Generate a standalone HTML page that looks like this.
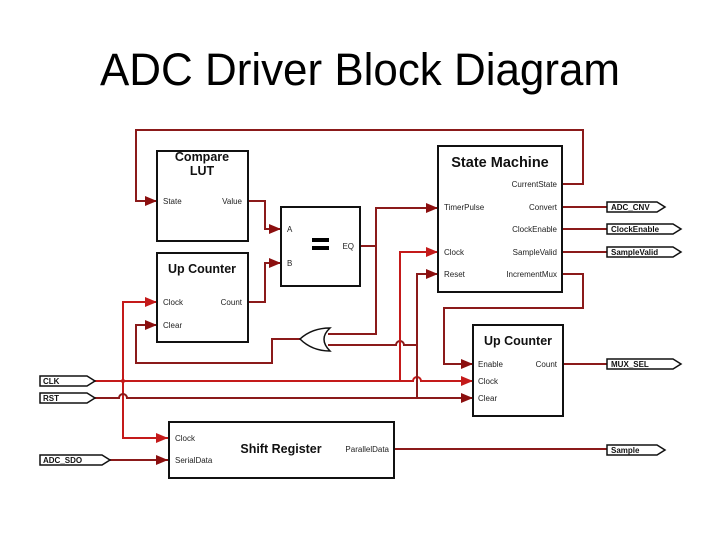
<!DOCTYPE html>
<html><head><meta charset="utf-8"><style>
html,body{margin:0;padding:0;background:#fff;}
svg{display:block;font-family:"Liberation Sans",Arial,sans-serif;}
.w{fill:none;stroke:#8b1a1a;stroke-width:2;}
.c{fill:none;stroke:#c41a1a;stroke-width:2;}
.b{fill:#fff;stroke:#111;stroke-width:2;}
.p{font-size:8px;fill:#222;}
.t{font-size:12.5px;font-weight:bold;fill:#111;}
.g{font-size:8px;font-weight:bold;fill:#111;}
.tag{fill:#fff;stroke:#111;stroke-width:1.5;}
</style></head><body>
<svg width="720" height="540" viewBox="0 0 720 540">
<defs>
<marker id="a" markerWidth="12" markerHeight="10" refX="12" refY="5" orient="auto" markerUnits="userSpaceOnUse"><path d="M0,0 L12,5 L0,10 Z" fill="#8b0f0f"/></marker>
<marker id="ac" markerWidth="12" markerHeight="10" refX="12" refY="5" orient="auto" markerUnits="userSpaceOnUse"><path d="M0,0 L12,5 L0,10 Z" fill="#c41a1a"/></marker>
</defs>
<text x="360" y="85" text-anchor="middle" font-size="45" textLength="520" lengthAdjust="spacingAndGlyphs" fill="#000">ADC Driver Block Diagram</text>

<path class="w" d="M562,184 H583 V130 H136 V201 H157" marker-end="url(#a)"/>
<path class="w" d="M248,201 H265 V229 H281" marker-end="url(#a)"/>
<path class="w" d="M248,302 H265 V263 H281" marker-end="url(#a)"/>
<path class="w" d="M360,246 H376 V208 H438" marker-end="url(#a)"/>
<path class="w" d="M376,246 V334 H328"/>
<path class="w" d="M328,345 H396 A4,4 0 0 1 404,345 H417"/>
<path class="w" d="M300,339 H272 V363 H136 V325 H157" marker-end="url(#a)"/>
<path class="c" d="M95,381 H413 A4,4 0 0 1 421,381 H473" marker-end="url(#ac)"/>
<path class="c" d="M123,438 V302 H157" marker-end="url(#ac)"/>
<path class="c" d="M123,381 V438 H168" marker-end="url(#ac)"/>
<circle cx="123" cy="381" r="2" fill="#c41a1a"/>
<path class="c" d="M400,381 V252 H438" marker-end="url(#ac)"/>
<path class="w" d="M95,398 H119 A4,4 0 0 1 127,398 H473" marker-end="url(#a)"/>
<path class="w" d="M417,398 V274 H438" marker-end="url(#a)"/>
<path class="w" d="M562,274 H583 V308 H444 V364 H473" marker-end="url(#a)"/>
<path class="w" d="M562,207 H607 M562,229 H607 M562,252 H607 M563,364 H607 M394,449 H607"/>
<path class="w" d="M110,460 H168" marker-end="url(#a)"/>

<path d="M330,328 Q318,339 330,351 Q312,351 300,339 Q312,328 330,328 Z" fill="#fff" stroke="#111" stroke-width="1.5"/>

<rect class="b" x="157" y="151" width="91" height="90"/>
<text class="t" x="202" y="161" text-anchor="middle">Compare</text>
<text class="t" x="202" y="175" text-anchor="middle">LUT</text>
<text class="p" x="163" y="204">State</text>
<text class="p" x="242" y="204" text-anchor="end">Value</text>

<rect class="b" x="157" y="253" width="91" height="89"/>
<text class="t" x="202" y="273" text-anchor="middle">Up Counter</text>
<text class="p" x="163" y="305">Clock</text>
<text class="p" x="163" y="328">Clear</text>
<text class="p" x="242" y="305" text-anchor="end">Count</text>

<rect class="b" x="281" y="207" width="79" height="79"/>
<rect x="312" y="238" width="17" height="4" fill="#000"/>
<rect x="312" y="246" width="17" height="4" fill="#000"/>
<text class="p" x="287" y="232">A</text>
<text class="p" x="287" y="266">B</text>
<text class="p" x="354" y="249" text-anchor="end">EQ</text>

<rect class="b" x="438" y="146" width="124" height="146"/>
<text x="500" y="167" text-anchor="middle" font-size="14.5" font-weight="bold" fill="#111">State Machine</text>
<text class="p" x="557" y="187" text-anchor="end">CurrentState</text>
<text class="p" x="557" y="210" text-anchor="end">Convert</text>
<text class="p" x="557" y="232" text-anchor="end">ClockEnable</text>
<text class="p" x="557" y="255" text-anchor="end">SampleValid</text>
<text class="p" x="557" y="277" text-anchor="end">IncrementMux</text>
<text class="p" x="444" y="210">TimerPulse</text>
<text class="p" x="444" y="255">Clock</text>
<text class="p" x="444" y="277">Reset</text>

<rect class="b" x="473" y="325" width="90" height="91"/>
<text class="t" x="518" y="345" text-anchor="middle">Up Counter</text>
<text class="p" x="478" y="367">Enable</text>
<text class="p" x="478" y="384">Clock</text>
<text class="p" x="478" y="401">Clear</text>
<text class="p" x="557" y="367" text-anchor="end">Count</text>

<rect class="b" x="169" y="422" width="225" height="56"/>
<text class="t" x="281" y="453" text-anchor="middle">Shift Register</text>
<text class="p" x="175" y="441">Clock</text>
<text class="p" x="175" y="463">SerialData</text>
<text class="p" x="389" y="452" text-anchor="end">ParallelData</text>

<path class="tag" d="M40,376 H87 L95,381 L87,386 H40 Z"/><text class="g" x="43" y="384">CLK</text>
<path class="tag" d="M40,393 H87 L95,398 L87,403 H40 Z"/><text class="g" x="43" y="401">RST</text>
<path class="tag" d="M40,455 H102 L110,460 L102,465 H40 Z"/><text class="g" x="43" y="463">ADC_SDO</text>
<path class="tag" d="M607,202 H657 L665,207 L657,212 H607 Z"/><text class="g" x="611" y="210">ADC_CNV</text>
<path class="tag" d="M607,224 H673 L681,229 L673,234 H607 Z"/><text class="g" x="611" y="232">ClockEnable</text>
<path class="tag" d="M607,247 H673 L681,252 L673,257 H607 Z"/><text class="g" x="611" y="255">SampleValid</text>
<path class="tag" d="M607,359 H673 L681,364 L673,369 H607 Z"/><text class="g" x="611" y="367">MUX_SEL</text>
<path class="tag" d="M607,445 H657 L665,450 L657,455 H607 Z"/><text class="g" x="611" y="453">Sample</text>
</svg>
</body></html>
